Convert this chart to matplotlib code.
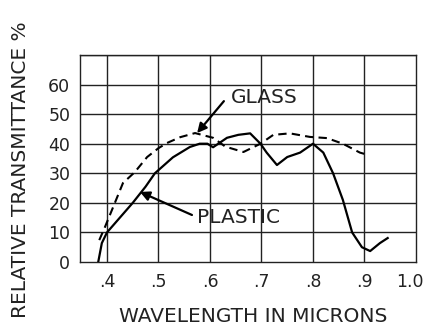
import matplotlib
matplotlib.use("Agg")
import matplotlib.pyplot as plt
from matplotlib.transforms import ScaledTranslation

plt.rcParams['font.family'] = ['DejaVu Sans']

# data
plastic_x = [0.383, 0.39, 0.40, 0.425, 0.45, 0.475, 0.493, 0.528, 0.561, 0.58, 0.595,
             0.606, 0.633, 0.655, 0.678, 0.698, 0.71, 0.73, 0.75, 0.775, 0.8, 0.82,
             0.839, 0.858, 0.876, 0.895, 0.911, 0.93, 0.945]
plastic_y = [0, 6.4, 10, 15, 20, 25.5, 30, 35.4, 38.9, 40, 40,
             38.8, 42, 43, 43.5, 40, 37, 32.8, 35.5, 37, 40, 37,
             30, 21, 10, 5, 3.7, 6.4, 8.1]
glass_x = [0.385, 0.396, 0.416, 0.431, 0.454, 0.478, 0.5, 0.516, 0.542, 0.571, 0.606,
           0.63, 0.665, 0.698, 0.723, 0.755, 0.794, 0.827, 0.858, 0.891, 0.907]
glass_y = [7.4, 11.8, 20.3, 26.7, 30.4, 35.5, 38.5, 40.2, 42.2, 43.6, 42,
           39, 37.2, 40, 43, 43.5, 42.3, 41.9, 40, 37, 36.2]
xticks = [0.4, 0.5, 0.6, 0.7, 0.8, 0.9, 1.0]
xtick_labels = ['.4', '.5', '.6', '.7', '.8', '.9', '1.0']
yticks = [0, 10, 20, 30, 40, 50, 60]

fig = plt.figure(figsize=(4.27, 3.32), dpi=100)
ax = fig.add_axes([80/427, 70/332, 336/427, 207/332])

ax.set_xlim(0.3476, 1.0)
ax.set_ylim(0, 70)

for x in xticks[:-1]:
    ax.axvline(x, color='#222222', lw=1.0, zorder=1)
for y in yticks[1:] + [70]:
    ax.axhline(y, color='#222222', lw=1.0, zorder=1)

ax.plot(plastic_x, plastic_y, color='black', lw=1.6, zorder=3)
ax.plot(glass_x, glass_y, color='black', lw=1.5, ls=(0, (4, 2.5)), zorder=3)

ax.set_xticks(xticks)
ax.set_xticklabels(xtick_labels)
ax.set_yticks(yticks)
ax.tick_params(length=0, labelsize=12.5, colors='#222222')
ax.tick_params(axis='y', pad=7)
ax.tick_params(axis='x', pad=8)
lab = ax.get_xticklabels()[-1]
lab.set_transform(lab.get_transform() + ScaledTranslation(-6/100, 0, fig.dpi_scale_trans))
for s in ax.spines.values():
    s.set_color('#222222')
    s.set_linewidth(1.0)

arrow = dict(arrowstyle='-|>', color='black', lw=1.6, shrinkA=0, shrinkB=0,
             mutation_scale=14)
ax.annotate('', xy=(0.575, 43.6), xytext=(0.627, 54.4), arrowprops=arrow, zorder=4)
ax.annotate('', xy=(0.464, 23.7), xytext=(0.565, 15.9), arrowprops=arrow, zorder=4)
ax.text(0.641, 55.5, 'GLASS', fontsize=14.5, va='center', ha='left', color='#222222')
ax.text(0.575, 15.2, 'PLASTIC', fontsize=14.5, va='center', ha='left', color='#222222')

fig.text(21/427, 1 - 170/332, 'RELATIVE TRANSMITTANCE %', rotation=90,
         fontsize=14.5, ha='center', va='center', color='#222222')
fig.text(253/427, 1 - 317/332, 'WAVELENGTH IN MICRONS',
         fontsize=14.5, ha='center', va='center', color='#222222')

fig.savefig('out.png', dpi=100)
